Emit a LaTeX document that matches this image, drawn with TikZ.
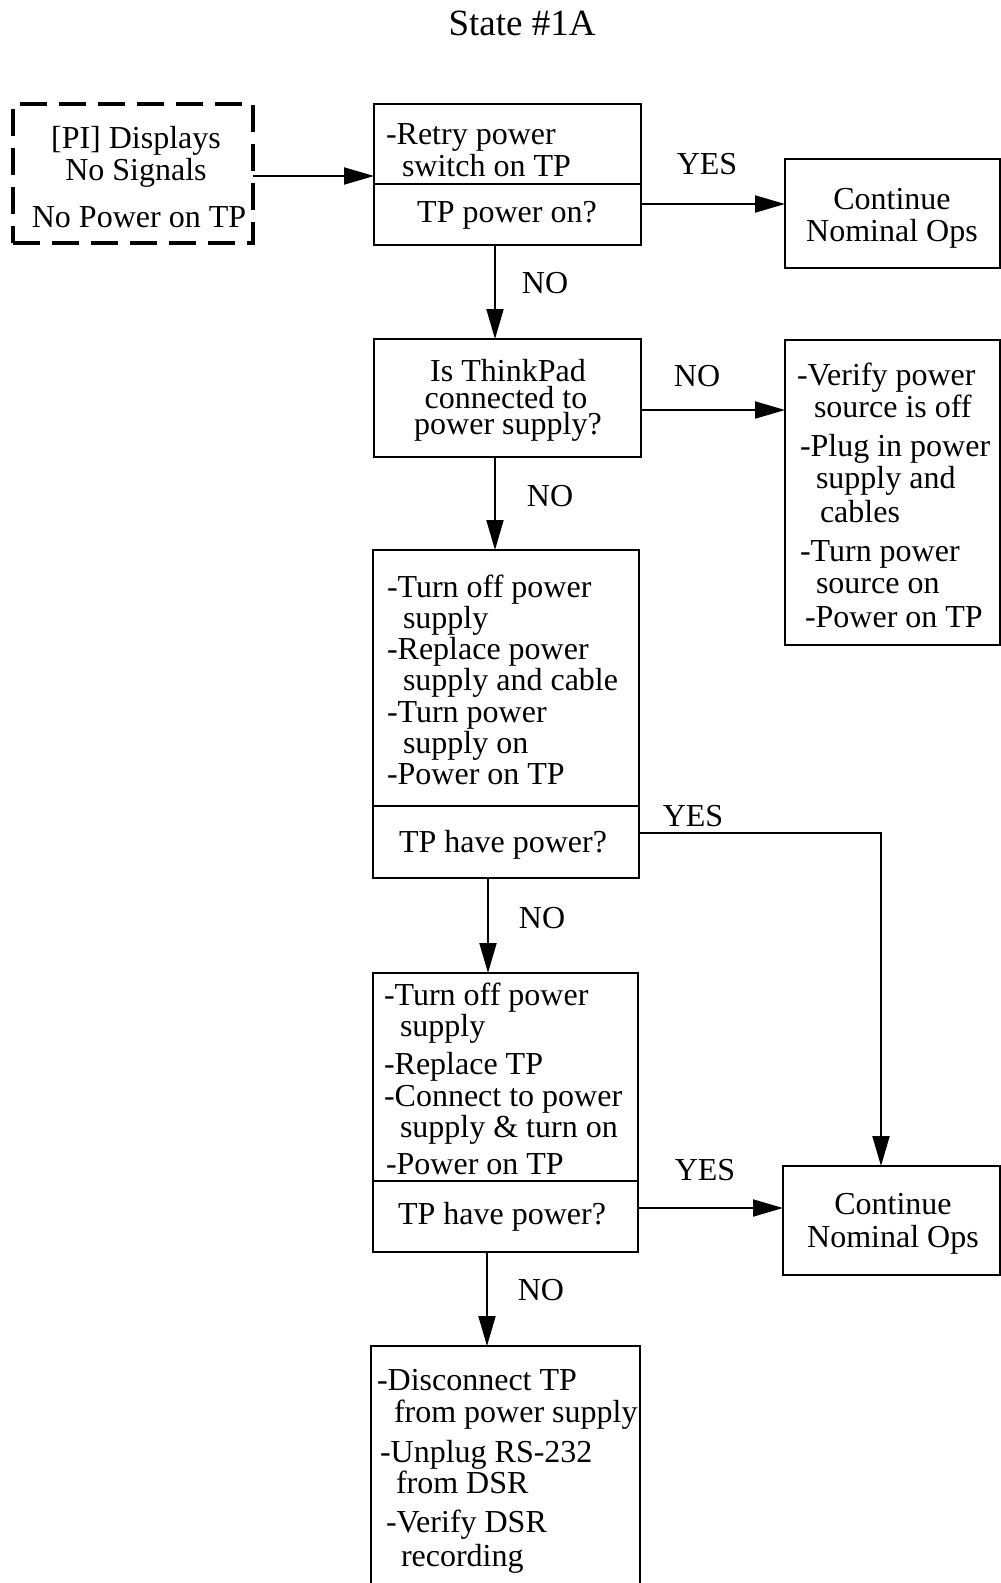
\documentclass[tikz,border=0pt]{standalone}
\usepackage{fontspec}
\setmainfont{Liberation Serif}
\usetikzlibrary{arrows.meta}
\begin{document}
\begin{tikzpicture}[x=1pt,y=-1pt,
  box/.style={draw, line width=2.4pt, rectangle, inner sep=0pt, outer sep=0pt},
  dbox/.style={draw, line width=3.2pt, dash pattern=on 27pt off 12pt, rectangle, inner sep=0pt, outer sep=0pt},
  arr/.style={line width=2pt, -{Triangle[length=30pt,width=17pt]}},
  txt/.style={inner sep=0pt, outer sep=0pt, font=\fontsize{32}{34}\selectfont, text height=22pt, text depth=0pt},
  lt/.style={txt, anchor=west},
]
\useasboundingbox (0,0) rectangle (1001,1583);

% title
\node[inner sep=0pt, font=\fontsize{37}{40}\selectfont, text height=26pt, text depth=0pt] (title) at (522,22) {State \#1A};

% boxes
\node[dbox, minimum width=240pt, minimum height=139pt] (pi) at (133,173.5) {};
\node[box, minimum width=267pt, minimum height=80pt] (b1top) at (507.5,144) {};
\node[box, minimum width=267pt, minimum height=61pt] (b1bot) at (507.5,214.5) {};
\node[box, minimum width=215pt, minimum height=109pt] (c1) at (892.5,213.5) {};
\node[box, minimum width=267pt, minimum height=118pt] (b2) at (507.5,398) {};
\node[box, minimum width=215pt, minimum height=305pt] (v) at (892.5,492.5) {};
\node[box, minimum width=266pt, minimum height=256pt] (b3top) at (506,678) {};
\node[box, minimum width=266pt, minimum height=72pt] (b3bot) at (506,842) {};
\node[box, minimum width=265pt, minimum height=208pt] (b4top) at (505.5,1077) {};
\node[box, minimum width=265pt, minimum height=71pt] (b4bot) at (505.5,1216.5) {};
\node[box, minimum width=217pt, minimum height=109pt] (c2) at (891.5,1220.5) {};
\node[box, minimum width=269pt, minimum height=294pt] (b5) at (505.5,1493) {};

% texts
\node[txt] (pi1) at (136,137) {[PI] Displays};
\node[txt] (pi2) at (136,169) {No Signals};
\node[txt] (pi3) at (139,216) {No Power on TP};

\node[lt] (b1a) at (386,133) {-Retry power};
\node[lt] (b1b) at (402,165) {switch on TP};
\node[txt] (b1c) at (507,211) {TP power on?};

\node[txt] (c1a) at (892,198) {Continue};
\node[txt] (c1b) at (892,230) {Nominal Ops};

\node[txt] (b2a) at (508,370) {Is ThinkPad};
\node[txt] (b2b) at (506,397) {connected to};
\node[txt] (b2c) at (508,423) {power supply?};

\node[lt] (v1) at (797,374) {-Verify power};
\node[lt] (v2) at (814,406) {source is off};
\node[lt] (v3) at (800,445) {-Plug in power};
\node[lt] (v4) at (816,477) {supply and};
\node[lt] (v5) at (820,511) {cables};
\node[lt] (v6) at (800,550) {-Turn power};
\node[lt] (v7) at (816,582) {source on};
\node[lt] (v8) at (805,616) {-Power on TP};

\node[lt] (b3a) at (387,586) {-Turn off power};
\node[lt] (b3b) at (403,617) {supply};
\node[lt] (b3c) at (387,648) {-Replace power};
\node[lt] (b3d) at (403,679) {supply and cable};
\node[lt] (b3e) at (387,711) {-Turn power};
\node[lt] (b3f) at (403,742) {supply on};
\node[lt] (b3g) at (387,773) {-Power on TP};
\node[txt] (b3h) at (503,841) {TP have power?};

\node[lt] (b4a) at (384,994) {-Turn off power};
\node[lt] (b4b) at (400,1025) {supply};
\node[lt] (b4c) at (384,1063) {-Replace TP};
\node[lt] (b4d) at (384,1095) {-Connect to power};
\node[lt] (b4e) at (400,1126) {supply \& turn on};
\node[lt] (b4f) at (386,1163) {-Power on TP};
\node[txt] (b4g) at (502,1213) {TP have power?};

\node[txt] (c2a) at (893,1203) {Continue};
\node[txt] (c2b) at (893,1236) {Nominal Ops};

\node[lt] (b5a) at (377,1379) {-Disconnect TP};
\node[lt] (b5b) at (394,1411) {from power supply};
\node[lt] (b5c) at (380,1451) {-Unplug RS-232};
\node[lt] (b5d) at (396,1482) {from DSR};
\node[lt] (b5e) at (386,1521) {-Verify DSR};
\node[lt] (b5f) at (401,1555) {recording};

% labels
\node[txt] (l1) at (707,163) {YES};
\node[txt] (l2) at (545,282) {NO};
\node[txt] (l3) at (697,375) {NO};
\node[txt] (l4) at (550,495) {NO};
\node[txt] (l5) at (693,815) {YES};
\node[txt] (l6) at (542,917) {NO};
\node[txt] (l7) at (705,1169) {YES};
\node[txt] (l8) at (541,1289) {NO};

% connectors
\draw[arr] (pi.east |- 0,176) -- (b1top.west |- 0,176);
\draw[arr] (b1bot.east |- 0,204) -- (c1.west |- 0,204);
\draw[arr] (b1bot.south -| 495,0) -- (b2.north -| 495,0);
\draw[arr] (b2.east |- 0,410) -- (v.west |- 0,410);
\draw[arr] (b2.south -| 495,0) -- (b3top.north -| 495,0);
\draw[arr] (b3bot.east |- 0,833) -| (c2.north -| 881,0);
\draw[arr] (b3bot.south -| 488,0) -- (b4top.north -| 488,0);
\draw[arr] (b4bot.east |- 0,1208) -- (c2.west |- 0,1208);
\draw[arr] (b4bot.south -| 487,0) -- (b5.north -| 487,0);
\end{tikzpicture}
\end{document}
